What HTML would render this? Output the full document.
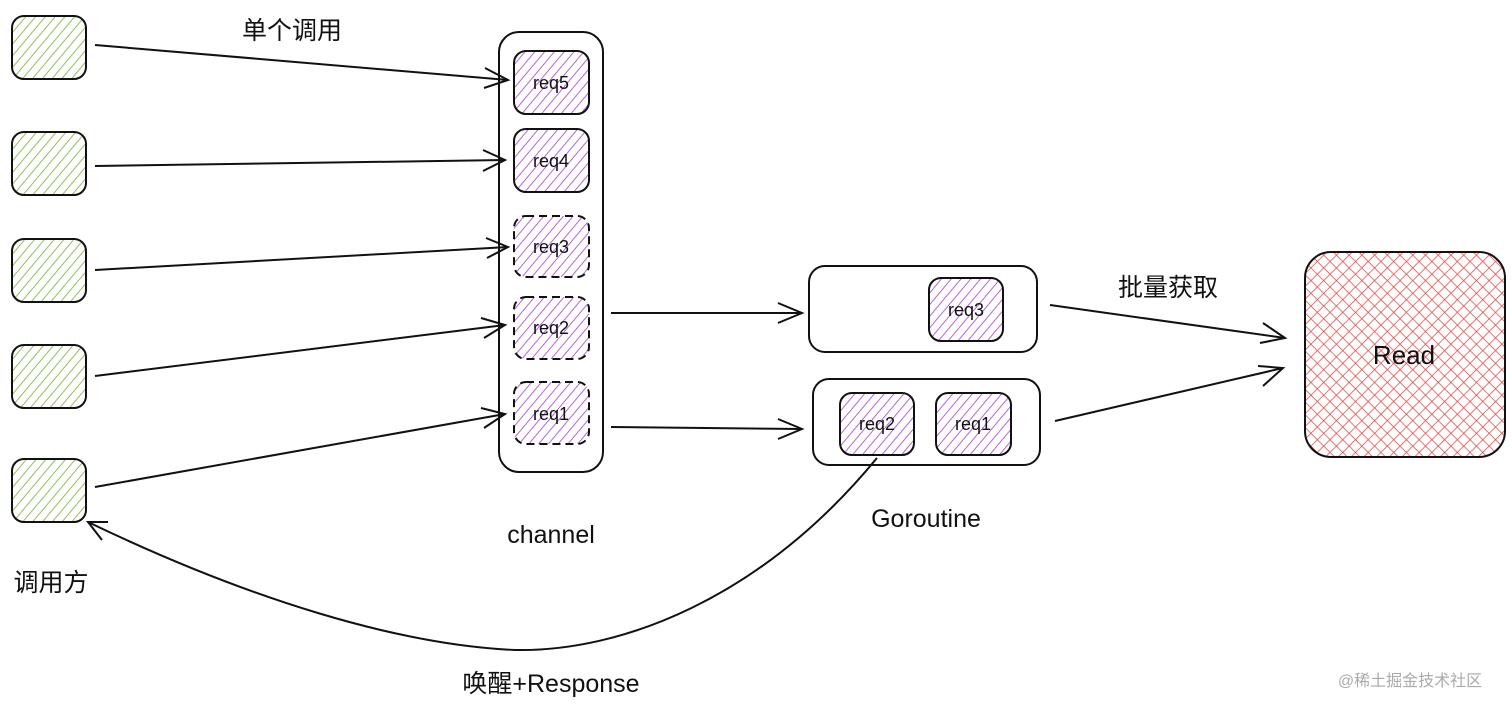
<!DOCTYPE html>
<html><head><meta charset="utf-8"><style>
html,body{margin:0;padding:0;background:#fff;width:1512px;height:711px;overflow:hidden}
svg text{font-family:"Liberation Sans","Noto Sans CJK SC",sans-serif;fill:#111}
</style></head><body>
<svg width="1512" height="711" viewBox="0 0 1512 711" xmlns="http://www.w3.org/2000/svg">
<defs>
<pattern id="g" width="7.5" height="7.5" patternUnits="userSpaceOnUse" patternTransform="rotate(40)">
<rect width="7.5" height="7.5" fill="#fff"/><line x1="0" y1="0" x2="0" y2="7.5" stroke="#7cb83a" stroke-width="1.7"/></pattern>
<pattern id="p" width="7.5" height="7.5" patternUnits="userSpaceOnUse" patternTransform="rotate(40)">
<rect width="7.5" height="7.5" fill="#fff"/><line x1="0" y1="0" x2="0" y2="7.5" stroke="#a94ad8" stroke-width="1.7"/></pattern>
<pattern id="r" width="9" height="9" patternUnits="userSpaceOnUse" patternTransform="rotate(45)">
<rect width="9" height="9" fill="#fff"/><line x1="0" y1="0" x2="0" y2="9" stroke="#e84545" stroke-width="1.5"/><line x1="0" y1="0" x2="9" y2="0" stroke="#e84545" stroke-width="1.5"/></pattern>
</defs>
<g stroke="#111" stroke-width="2">
<rect x="12" y="16" width="74" height="63" rx="12" fill="url(#g)"/>
<rect x="12" y="132" width="74" height="63" rx="12" fill="url(#g)"/>
<rect x="12" y="239" width="74" height="63" rx="12" fill="url(#g)"/>
<rect x="12" y="345" width="74" height="63" rx="12" fill="url(#g)"/>
<rect x="12" y="459" width="74" height="63" rx="12" fill="url(#g)"/>
<rect x="499" y="32" width="104" height="440" rx="20" fill="#fff"/>
<rect x="514" y="51" width="75" height="63" rx="12" fill="url(#p)"/>
<rect x="514" y="129" width="75" height="63" rx="12" fill="url(#p)"/>
<rect x="514" y="216" width="75" height="61" rx="12" fill="url(#p)" stroke-dasharray="8 5"/>
<rect x="514" y="297" width="75" height="62" rx="12" fill="url(#p)" stroke-dasharray="8 5"/>
<rect x="514" y="382" width="75" height="62" rx="12" fill="url(#p)" stroke-dasharray="8 5"/>
<rect x="809" y="266" width="228" height="86" rx="16" fill="#fff"/>
<rect x="929" y="278" width="74" height="63" rx="12" fill="url(#p)"/>
<rect x="813" y="379" width="227" height="86" rx="16" fill="#fff"/>
<rect x="840" y="393" width="74" height="62" rx="12" fill="url(#p)"/>
<rect x="936" y="393" width="75" height="62" rx="12" fill="url(#p)"/>
<rect x="1305" y="252" width="200" height="205" rx="26" fill="url(#r)"/>
</g>
<g stroke="#111" stroke-width="2" fill="none">
<line x1="95" y1="45" x2="508" y2="80"/><polyline points="485,68 508,80 484,88"/>
<line x1="95" y1="166" x2="505" y2="160"/><polyline points="483,150 505,160 483,171"/>
<line x1="95" y1="270" x2="508" y2="247"/><polyline points="486,238 508,247 487,258"/>
<line x1="95" y1="376" x2="505" y2="325"/><polyline points="481,318 505,325 484,338"/>
<line x1="95" y1="487" x2="505" y2="414"/><polyline points="481,408 505,414 484,428"/>
<line x1="611" y1="313" x2="802" y2="313"/><polyline points="778,303 802,313 778,323"/>
<line x1="611" y1="427" x2="802" y2="429"/><polyline points="778,419 802,429 778,439"/>
<line x1="1050" y1="305" x2="1285" y2="338"/><polyline points="1263,323 1285,338 1260,343"/>
<line x1="1055" y1="421" x2="1283" y2="368"/><polyline points="1258,366 1283,368 1263,386"/>
<path d="M877,458 C760,600 620,652 515,650 C400,645 250,600 88,522"/>
<polyline points="108,522 88,522 102,540"/>
</g>
<g font-size="18" text-anchor="middle">
<text x="551" y="89">req5</text><text x="551" y="167">req4</text><text x="551" y="253">req3</text>
<text x="551" y="334">req2</text><text x="551" y="420">req1</text>
<text x="966" y="316">req3</text><text x="877" y="430">req2</text><text x="973" y="430">req1</text>
</g>
<g font-size="25" text-anchor="middle">
<text x="292" y="39">单个调用</text>
<text x="1168" y="296">批量获取</text>
<text x="1404" y="364" font-size="26">Read</text>
<text x="551" y="543">channel</text>
<text x="926" y="527">Goroutine</text>
<text x="51" y="591">调用方</text>
<text x="551" y="692">唤醒+Response</text>
</g>
<text x="1410" y="686" font-size="16" text-anchor="middle" style="fill:#aaa">@稀土掘金技术社区</text>
</svg>
</body></html>
